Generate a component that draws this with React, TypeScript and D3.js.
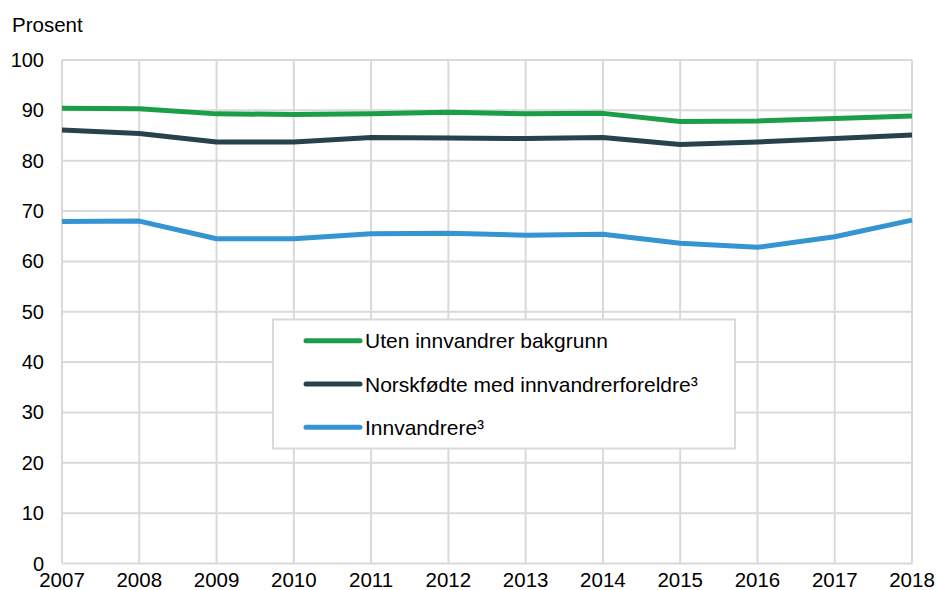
import React from "react";
import * as d3 from "d3";

const years = [2007, 2008, 2009, 2010, 2011, 2012, 2013, 2014, 2015, 2016, 2017, 2018];
const utenInnvandrer = [90.4, 90.3, 89.3, 89.2, 89.3, 89.6, 89.3, 89.4, 87.8, 87.9, 88.4, 88.9];
const norskfodte = [86.1, 85.4, 83.7, 83.7, 84.6, 84.5, 84.4, 84.6, 83.2, 83.7, 84.4, 85.1];
const innvandrere = [67.9, 68.0, 64.5, 64.5, 65.5, 65.6, 65.2, 65.4, 63.6, 62.8, 64.9, 68.2];
const yTicks = [0, 10, 20, 30, 40, 50, 60, 70, 80, 90, 100];
const seriesNames = ["Uten innvandrer bakgrunn", "Norskfødte med innvandrerforeldre³", "Innvandrere³"];
const seriesColors = ["#1b9e48", "#26424a", "#3595d2"];

export default function App() {
  const W = 936, H = 590;
  const x = d3.scaleLinear().domain([2007, 2018]).range([62, 912]);
  const y = d3.scaleLinear().domain([0, 100]).range([563.5, 60]);
  const series = [utenInnvandrer, norskfodte, innvandrere];
  const line = d3.line<number>().x((_, i) => x(years[i])).y((d) => y(d));
  const font = "'Liberation Sans', Arial, sans-serif";
  const legendY = [340.7, 384, 427.3];

  return (
    <svg width={W} height={H} style={{ position: "absolute", left: 0, top: 0 }} fontFamily={font}>
      <rect width={W} height={H} fill="#fff" />
      <text x={12} y={32} fontSize={20.5} fill="#000">Prosent</text>
      {yTicks.map((t) => (
        <g key={t}>
          <line x1={62} x2={912} y1={y(t)} y2={y(t)} stroke="#d9d9d9" strokeWidth={2} />
          <text x={44} y={y(t) + 7} fontSize={20} textAnchor="end" fill="#000">{t}</text>
        </g>
      ))}
      {years.map((yr) => (
        <g key={yr}>
          <line x1={x(yr)} x2={x(yr)} y1={y(0)} y2={y(100)} stroke="#d9d9d9" strokeWidth={2} />
          <text x={x(yr)} y={587} fontSize={20.5} textAnchor="middle" fill="#000">{yr}</text>
        </g>
      ))}
      {series.map((s, i) => (
        <path key={i} d={line(s) || ""} fill="none" stroke={seriesColors[i]} strokeWidth={5} strokeLinejoin="round" />
      ))}
      <rect x={273} y={319.5} width={462} height={129} fill="#fff" stroke="#d9d9d9" strokeWidth={2} />
      {seriesNames.map((n, i) => (
        <g key={n}>
          <line x1={306} x2={360} y1={legendY[i]} y2={legendY[i]} stroke={seriesColors[i]} strokeWidth={5} strokeLinecap="round" />
          <text x={365} y={legendY[i] + 7.5} fontSize={21} fill="#000">{n}</text>
        </g>
      ))}
    </svg>
  );
}
